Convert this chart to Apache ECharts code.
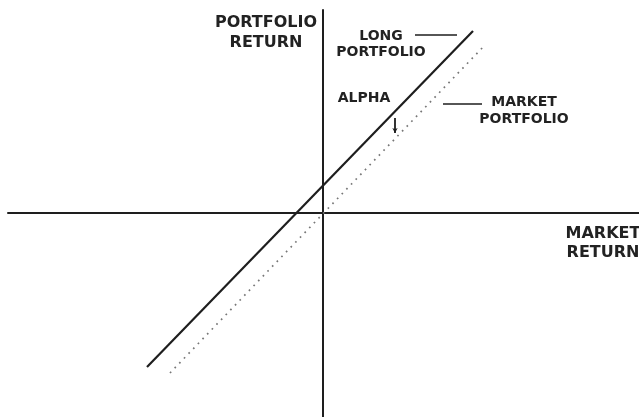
<!DOCTYPE html>
<html>
<head>
<meta charset="utf-8">
<script src="https://cdn.jsdelivr.net/npm/echarts@6/dist/echarts.min.js"></script>
<style>
  html, body { margin: 0; padding: 0; background: #fff; }
  #chart { width: 639px; height: 417px; }
</style>
</head>
<body>
<div id="chart"></div>
<script>
// 1 unit = 10 px; origin of the diagram is where the axes cross
const marketLine = [[-15.3, -16.0], [16.2, 16.8]]      // dotted, through origin
const longLine = [[-17.6, -15.4], [15.0, 18.2]]        // solid, shifted up by alpha
const alphaMark = [[7.2, 9.5], [7.2, 8.0]]
const longLeader = [[9.2, 17.8], [13.4, 17.8]]
const marketLeader = [[12.0, 10.9], [15.9, 10.9]]

const labelText = ['PORTFOLIO\nRETURN', 'MARKET\nRETURN', 'LONG\nPORTFOLIO', 'ALPHA', 'MARKET\nPORTFOLIO']
const labelPos = [[-5.7, 18.05], [28.0, -3.0], [5.8, 16.9], [4.1, 11.5], [20.1, 10.25]]
const labelSize = [16, 16, 14, 14, 14]
const labelLead = [20, 19, 16, 16, 17]

const ink = '#1e1e1e'
const chart = echarts.init(document.getElementById('chart'), null, { renderer: 'canvas' })

const thin = (data, extra) => Object.assign({
  type: 'line',
  data,
  symbol: 'none',
  silent: true,
  lineStyle: { color: ink, width: 2.2 }
}, extra)

chart.setOption({
  animation: false,
  grid: { left: 8, right: 0, top: 10, bottom: 0 },
  xAxis: {
    type: 'value',
    min: -31.5,
    max: 31.6,
    axisLine: { onZero: true, lineStyle: { color: ink, width: 2 } },
    axisTick: { show: false },
    axisLabel: { show: false },
    splitLine: { show: false }
  },
  yAxis: {
    type: 'value',
    min: -20.4,
    max: 20.3,
    axisLine: { show: true, onZero: true, lineStyle: { color: ink, width: 2 } },
    axisTick: { show: false },
    axisLabel: { show: false },
    splitLine: { show: false }
  },
  series: [
    thin(marketLine, { lineStyle: { color: '#777', width: 1.7, type: [1.7, 5] } }),
    thin(longLine),
    thin([
      { value: alphaMark[0], symbol: 'none' },
      { value: alphaMark[1], symbol: 'arrow', symbolSize: [4, 5], symbolRotate: 180 }
    ], { symbol: 'none', showAllSymbol: true, itemStyle: { color: ink }, lineStyle: { color: ink, width: 1.8 } }),
    thin(longLeader, { lineStyle: { color: ink, width: 1.5 } }),
    thin(marketLeader, { lineStyle: { color: ink, width: 1.5 } }),
    {
      type: 'scatter',
      symbolSize: 0,
      silent: true,
      itemStyle: { opacity: 1 },
      data: labelText.map((t, i) => ({
        name: t,
        value: labelPos[i],
        label: { fontSize: labelSize[i], lineHeight: labelLead[i] }
      })),
      label: {
        show: true,
        position: 'inside',
        formatter: (p) => p.name,
        color: '#222',
        fontFamily: 'DejaVu Sans',
        fontWeight: 'bold',
        align: 'center',
        verticalAlign: 'middle'
      }
    }
  ]
})
</script>
</body>
</html>
